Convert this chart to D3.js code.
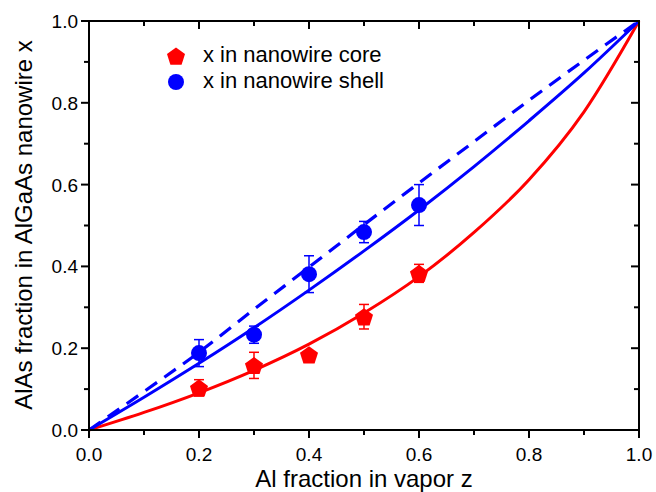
<!DOCTYPE html>
<html>
  <head>
    <meta charset="utf-8">
    <title>AlGaAs nanowire composition</title>
    <style>
      body { margin: 0; background: #fff; }
      svg text { font-family: "Liberation Sans", Arial, sans-serif; fill: #000; }
    </style>
  </head>
  <body>
    <svg id="chart" width="656" height="492"></svg>
    <script src="https://d3js.org/d3.v7.min.js"></script>
    <script>
      // measured points
      var zPoints = [0.2, 0.3, 0.4, 0.5, 0.6];
      var coreX = [0.103, 0.158, 0.184, 0.277, 0.383];
      var coreErr = [0.02, 0.032, 0, 0.03, 0.022];
      var shellX = [0.188, 0.233, 0.381, 0.484, 0.55];
      var shellErr = [0.033, 0.021, 0.045, 0.026, 0.05];

      // fitted curves
      var zCurve = [0, 0.1, 0.2, 0.3, 0.4, 0.5, 0.6, 0.7, 0.8, 0.9, 1.0];
      var coreFit = [0, 0.043, 0.091, 0.146, 0.21, 0.286, 0.375, 0.483, 0.612, 0.778, 1.0];
      var shellFit = [0, 0.08, 0.163, 0.25, 0.342, 0.438, 0.538, 0.644, 0.756, 0.873, 1.0];
      var shellDash = [0, 0.094, 0.19, 0.295, 0.398, 0.502, 0.604, 0.705, 0.806, 0.904, 1.0];

      var xTicks = [0.0, 0.2, 0.4, 0.6, 0.8, 1.0];
      var yTicks = [0.0, 0.2, 0.4, 0.6, 0.8, 1.0];
      var minorTicks = [0.1, 0.3, 0.5, 0.7, 0.9];

      var RED = "#ff0000", BLUE = "#0000ff";
      var plotL = 89, plotR = 639, plotT = 21, plotB = 430;

      var svg = d3.select("#chart");
      var x = d3.scaleLinear().domain([0, 1]).range([plotL, plotR]);
      var y = d3.scaleLinear().domain([0, 1]).range([plotB, plotT]);
      var fmt = d3.format(".1f");

      // pentagon marker around (0,0)
      function pentagon(r) {
        var pts = d3.range(5).map(function (i) {
          var a = -Math.PI / 2 + i * 2 * Math.PI / 5;
          return [r * Math.cos(a), r * Math.sin(a)];
        });
        return "M" + pts.join("L") + "Z";
      }

      // curves
      function curve(vals) {
        return d3.line()
          .x(function (d, i) { return x(zCurve[i]); })
          .y(function (d) { return y(d); })
          .curve(d3.curveMonotoneX)(vals);
      }
      svg.append("path").attr("d", curve(coreFit))
        .attr("fill", "none").attr("stroke", RED).attr("stroke-width", 3);
      svg.append("path").attr("d", curve(shellFit))
        .attr("fill", "none").attr("stroke", BLUE).attr("stroke-width", 3);
      svg.append("path").attr("d", curve(shellDash))
        .attr("fill", "none").attr("stroke", BLUE).attr("stroke-width", 3.2)
        .attr("stroke-dasharray", "14,9");

      // error bars + markers
      function series(vals, errs, color, shape) {
        var g = svg.append("g");
        vals.forEach(function (v, i) {
          var e = errs[i], cx = x(zPoints[i]);
          if (e > 0) {
            g.append("line").attr("x1", cx).attr("x2", cx)
              .attr("y1", y(v - e)).attr("y2", y(v + e))
              .attr("stroke", color).attr("stroke-width", 1.5);
            [v - e, v + e].forEach(function (c) {
              g.append("line").attr("x1", cx - 5).attr("x2", cx + 5)
                .attr("y1", y(c)).attr("y2", y(c))
                .attr("stroke", color).attr("stroke-width", 1.5);
            });
          }
          if (shape === "pentagon") {
            g.append("path").attr("d", pentagon(9.5))
              .attr("transform", "translate(" + cx + "," + (y(v) + 1) + ")")
              .attr("fill", color);
          } else {
            g.append("circle").attr("cx", cx).attr("cy", y(v)).attr("r", 8)
              .attr("fill", color);
          }
        });
      }
      series(coreX, coreErr, RED, "pentagon");
      series(shellX, shellErr, BLUE, "circle");

      // axes
      var axisG = svg.append("g");
      axisG.append("rect").attr("x", plotL).attr("y", plotT)
        .attr("width", plotR - plotL).attr("height", plotB - plotT)
        .attr("fill", "none").attr("stroke", "#000").attr("stroke-width", 2);

      function ticks(vals, len) {
        vals.forEach(function (v) {
          // bottom (out), top (in)
          axisG.append("line").attr("x1", x(v)).attr("x2", x(v))
            .attr("y1", plotB).attr("y2", plotB + len)
            .attr("stroke", "#000").attr("stroke-width", 2);
          axisG.append("line").attr("x1", x(v)).attr("x2", x(v))
            .attr("y1", plotT).attr("y2", plotT + len)
            .attr("stroke", "#000").attr("stroke-width", 2);
          // left (out), right (in)
          axisG.append("line").attr("y1", y(v)).attr("y2", y(v))
            .attr("x1", plotL).attr("x2", plotL - len)
            .attr("stroke", "#000").attr("stroke-width", 2);
          axisG.append("line").attr("y1", y(v)).attr("y2", y(v))
            .attr("x1", plotR).attr("x2", plotR - len)
            .attr("stroke", "#000").attr("stroke-width", 2);
        });
      }
      ticks(xTicks, 8);
      ticks(minorTicks, 5);

      axisG.selectAll("text.xt").data(xTicks).enter().append("text")
        .attr("x", function (d) { return x(d); }).attr("y", 461)
        .attr("text-anchor", "middle").style("font-size", "19px")
        .text(fmt);
      axisG.selectAll("text.yt").data(yTicks).enter().append("text")
        .attr("x", 78).attr("y", function (d) { return y(d) + 7; })
        .attr("text-anchor", "end").style("font-size", "19px")
        .text(fmt);

      svg.append("text").attr("x", 364).attr("y", 487)
        .attr("text-anchor", "middle").style("font-size", "24px")
        .text("Al fraction in vapor z");
      svg.append("text").attr("transform", "translate(32,225) rotate(-90)")
        .attr("text-anchor", "middle").style("font-size", "24px")
        .text("AlAs fraction in AlGaAs nanowire x");

      // legend
      var leg = svg.append("g");
      leg.append("path").attr("d", pentagon(9.5))
        .attr("transform", "translate(176,57)").attr("fill", RED);
      leg.append("text").attr("x", 203).attr("y", 62).style("font-size", "22px")
        .text("x in nanowire core");
      leg.append("circle").attr("cx", 176).attr("cy", 82).attr("r", 8).attr("fill", BLUE);
      leg.append("text").attr("x", 203).attr("y", 88).style("font-size", "22px")
        .text("x in nanowire shell");
    </script>
  </body>
</html>
